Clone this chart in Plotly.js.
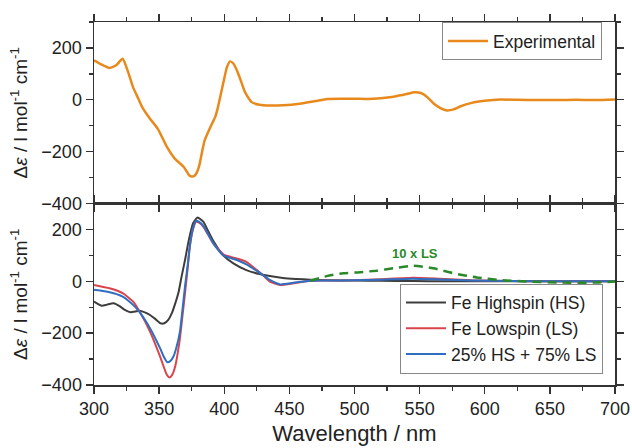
<!DOCTYPE html>
<html>
<head>
<meta charset="utf-8">
<script src="https://cdn.plot.ly/plotly-3.0.1.min.js"></script>
<style>html,body{margin:0;padding:0;background:#fff;}#chart{width:632px;height:448px;}</style>
</head>
<body>
<div id="chart"></div>
<script>
// Top panel: experimental CD spectrum
const expWl  = [300, 305, 312, 317, 322, 326, 330, 334, 337, 343, 349, 356, 362, 366, 369, 371, 373, 375, 377, 379, 381, 383, 385, 388, 391, 393, 395, 398, 400, 402, 404.5, 407, 410, 413, 416, 421, 427, 435, 445, 458, 470, 479, 490, 500, 510, 520, 530, 540, 546, 551, 556, 561, 566, 571, 576, 581, 590, 600, 612, 625, 640, 655, 670, 685, 700];
const expVal = [152, 138, 123, 133, 158, 110, 48, 5, -28, -73, -112, -182, -227, -245, -259, -275, -291, -296, -294, -280, -250, -200, -156, -120, -88, -67, -32, 36, 82, 125, 148, 140, 110, 70, 29, -9, -19, -22, -21, -15, -5, 3, 4, 4, 3, 6, 12, 22, 29, 26, 10, -15, -32, -41, -37, -26, -12, -4, 1, 0, -1, -1, 0, -1, 1];

// Bottom panel: calculated spectra
const hsWl  = [300, 306, 310, 315, 320, 323, 328, 335, 340, 343, 347, 351, 354, 357, 360, 362, 365, 367, 370, 372.5, 376, 379.5, 384, 388, 392, 399, 407, 417, 427, 435, 445, 455, 466, 480, 500, 520, 545, 570, 600, 640, 700];
const hsVal = [-78, -94, -90, -85, -97, -108, -119, -114, -122, -130, -145, -162, -162, -149, -120, -91, -40, 12, 85, 152, 223, 246, 229, 190, 152, 101, 69, 43, 28, 20, 13, 9, 6, 4, 3, 2, 1, 0, 0, 0, 0];

const lsWl  = [300, 312, 322, 330, 335, 343, 350.7, 355, 356.5, 358, 359.5, 361, 362.5, 364, 366, 368, 370, 372, 373.7, 376, 378.3, 381, 384, 391.6, 399.3, 405, 409.6, 417, 425, 430, 435, 442.8, 453, 466, 480, 500, 520, 545, 565, 590, 620, 660, 700];
const lsVal = [-14, -27, -46, -78, -117, -194, -290, -350, -365, -371, -365, -350, -325, -285, -219, -130, -40, 55, 140, 200, 229, 225, 210, 146, 104, 94, 88, 75, 43, 22, -1, -14, -8, 2, 3, 4, 8, 14, 10, 4, 1, 0, 0];

const mixWl  = [300, 312, 322, 330, 335, 343, 350.7, 354, 356.3, 358.5, 361, 363, 366, 368, 370, 372, 373.7, 376, 378.3, 381, 384, 391.6, 399.3, 409.6, 417, 425, 430, 435, 443, 453, 466, 480, 500, 520, 545, 565, 590, 620, 660, 700];
const mixVal = [-33, -42, -59, -91, -119, -181, -258, -295, -312, -308, -290, -260, -194, -105, -14, 65, 140, 205, 233, 228, 214, 146, 100, 82, 65, 40, 23, 5, -12, -6, 2, 3, 4, 6, 10, 7, 3, 1, 0, 0];

const tenWl  = [466, 478.6, 491.4, 504.2, 517, 529.8, 545.2, 560.5, 575.9, 593.8, 611.7, 632.2, 657.8, 683.4, 700];
const tenVal = [2, 20, 31, 35, 41, 50, 60, 50, 31, 15, 5, -1, -5, -5, -1];

const names = ["Experimental", "Fe Highspin (HS)", "Fe Lowspin (LS)", "25% HS + 75% LS", "10 x LS"];
const xTickVals = [300, 350, 400, 450, 500, 550, 600, 650, 700];
const yTickVals = [-400, -200, 0, 200];

const FONT = "Liberation Sans, Arial, Helvetica, sans-serif";
const AXC = "#333333";

const traces = [
  {x: expWl, y: expVal, name: names[0], xaxis: "x2", yaxis: "y", mode: "lines",
   line: {color: "#E8891C", width: 2.5, shape: "spline", smoothing: 0.5}, legend: "legend"},
  {x: hsWl, y: hsVal, name: names[1], xaxis: "x", yaxis: "y2", mode: "lines",
   line: {color: "#3d3d3d", width: 2, shape: "spline", smoothing: 0.5}, legend: "legend2"},
  {x: lsWl, y: lsVal, name: names[2], xaxis: "x", yaxis: "y2", mode: "lines",
   line: {color: "#d9444c", width: 2, shape: "spline", smoothing: 0.5}, legend: "legend2"},
  {x: mixWl, y: mixVal, name: names[3], xaxis: "x", yaxis: "y2", mode: "lines",
   line: {color: "#2f6ec0", width: 2, shape: "spline", smoothing: 0.5}, legend: "legend2"},
  {x: tenWl, y: tenVal, name: names[4], xaxis: "x", yaxis: "y2", mode: "lines", showlegend: false,
   line: {color: "#2a8a2a", width: 2.5, dash: "9px,6px", shape: "spline", smoothing: 0.5}}
];

function xAx(extra) {
  return Object.assign({
    range: [300, 700], tickvals: xTickVals, ticks: "outside", ticklen: 7, tickwidth: 1.3, tickcolor: AXC,
    minor: {dtick: 25, ticks: "outside", ticklen: 4, tickwidth: 1.3, tickcolor: AXC},
    showline: true, linecolor: AXC, linewidth: 1.5, mirror: "allticks",
    showgrid: false, zeroline: false, tickfont: {family: FONT, size: 18, color: "#222"}
  }, extra);
}
function yAx(extra) {
  return Object.assign({
    range: [-400, 300], tickvals: yTickVals, ticks: "outside", ticklen: 7, tickwidth: 1.3, tickcolor: AXC,
    minor: {dtick: 100, ticks: "outside", ticklen: 4, tickwidth: 1.3, tickcolor: AXC},
    showline: true, linecolor: AXC, linewidth: 1.5, mirror: "allticks",
    showgrid: false, zeroline: false, tickfont: {family: FONT, size: 18, color: "#222"},
    title: {text: "Δ<i>ε</i> / l mol<sup>-1</sup> cm<sup>-1</sup>", font: {family: FONT, size: 19, color: "#222"}, standoff: 8}
  }, extra);
}

const layout = {
  width: 632, height: 448,
  margin: {l: 94, r: 17, t: 22, b: 63},
  paper_bgcolor: "#fff", plot_bgcolor: "#fff",
  font: {family: FONT, color: "#222"},
  xaxis: xAx({anchor: "y2", domain: [0, 1],
    title: {text: "Wavelength / nm", font: {family: FONT, size: 22, color: "#222"}, standoff: 7}}),
  xaxis2: xAx({anchor: "y", domain: [0, 1], matches: "x", showticklabels: false}),
  yaxis: yAx({domain: [0.5, 1], anchor: "x2"}),
  yaxis2: yAx({domain: [0, 0.5], anchor: "x"}),
  legend: {x: 0.975, y: 1.0, xanchor: "right", yanchor: "top", bgcolor: "rgba(255,255,255,0)",
    bordercolor: "#888", borderwidth: 1, itemwidth: 40, font: {family: FONT, size: 17.5, color: "#222"}},
  legend2: {x: 0.977, y: 0.031, xanchor: "right", yanchor: "bottom", bgcolor: "rgba(255,255,255,0)",
    bordercolor: "#888", borderwidth: 1, itemwidth: 40, font: {family: FONT, size: 17.5, color: "#222"}, tracegroupgap: 0},
  annotations: [
    {text: "<b>" + names[4] + "</b>", x: 546.5, y: 109, xref: "x", yref: "y2", showarrow: false,
     font: {family: FONT, size: 13, color: "#2a8a2a"}}
  ],
  showlegend: true
};

Plotly.newPlot("chart", traces, layout, {staticPlot: true, displayModeBar: false});
</script>
</body>
</html>
